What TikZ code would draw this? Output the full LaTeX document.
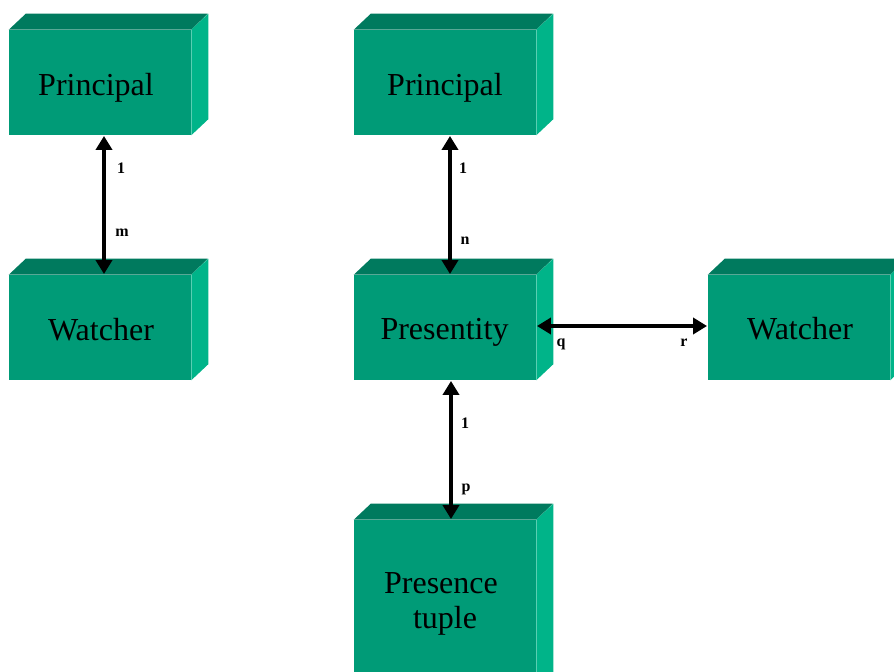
\documentclass[tikz,border=0pt]{standalone}
\usepackage{fontspec}
\setmainfont{Liberation Serif}
\usetikzlibrary{arrows.meta}
\definecolor{frontc}{RGB}{0,155,119}
\definecolor{topc}{RGB}{0,122,94}
\definecolor{sidec}{RGB}{0,180,137}
\tikzset{
  ent/.style={rectangle, fill=frontc, inner sep=0pt, minimum width=136.5pt, minimum height=78.75pt},
  etext/.style={anchor=base, inner sep=0pt, font=\fontsize{24}{29}\selectfont},
  rel/.style={line width=3pt, {Triangle[width=12pt,length=10.5pt]}-{Triangle[width=12pt,length=10.5pt]}, shorten <=0.5pt, shorten >=0.5pt},
  card/.style={font=\fontsize{12}{14}\bfseries\selectfont, inner sep=0pt}
}
\newcommand{\depthfaces}[1]{%
  \fill[topc] (#1.north west) -- ++(17,-16) -- ++(182,0) -- (#1.north east) -- cycle;
  \fill[sidec] (#1.north east) -- ++(17,-16) -- ([shift={(17,-16)}]#1.south east) -- (#1.south east) -- cycle;
}
\begin{document}
\begin{tikzpicture}[x=0.75pt,y=-0.75pt]
\useasboundingbox (0,0) rectangle (894,672);
\clip (0,0) rectangle (894,672);
\node[ent] (p1) at (100,82.5) {};
\node[ent] (w1) at (100,327.5) {};
\node[ent] (p2) at (445,82.5) {};
\node[ent] (pr) at (445,327.5) {};
\node[ent] (w2) at (799,327.5) {};
\node[ent, minimum height=150pt] (pt) at (445,620) {};
\depthfaces{p1}
\depthfaces{w1}
\depthfaces{p2}
\depthfaces{pr}
\depthfaces{w2}
\depthfaces{pt}
\node[etext] (t1) at (96,95) {Principal};
\node[etext] (t2) at (101,340) {Watcher};
\node[etext] (t3) at (445,95) {Principal};
\node[etext] (t4) at (444.5,339) {Presentity};
\node[etext] (t5) at (800,339) {Watcher};
\node[etext] (t6) at (441,593) {Presence};
\node[etext] (t7) at (445,628) {tuple};
\coordinate (a1) at (p1.south -| 104,0);
\coordinate (b1) at (w1.north -| 104,0);
\draw[rel] (a1) -- (b1);
\coordinate (a2) at (p2.south -| 450,0);
\coordinate (b2) at (pr.north -| 450,0);
\draw[rel] (a2) -- (b2);
\coordinate (a3) at (pr.east |- 0,326);
\coordinate (b3) at (w2.west |- 0,326);
\draw[rel] (a3) -- (b3);
\coordinate (a4) at (pr.south -| 451,0);
\coordinate (b4) at (pt.north -| 451,0);
\draw[rel] (a4) -- (b4);
\node[card] (c1) at (121,168) {1};
\node[card] (c2) at (122,233) {m};
\node[card] (c3) at (463,168) {1};
\node[card] (c4) at (465,241) {n};
\node[card] (c5) at (561,344) {q};
\node[card] (c6) at (684,343) {r};
\node[card] (c7) at (465,423) {1};
\node[card] (c8) at (466,489) {p};
\end{tikzpicture}
\end{document}
